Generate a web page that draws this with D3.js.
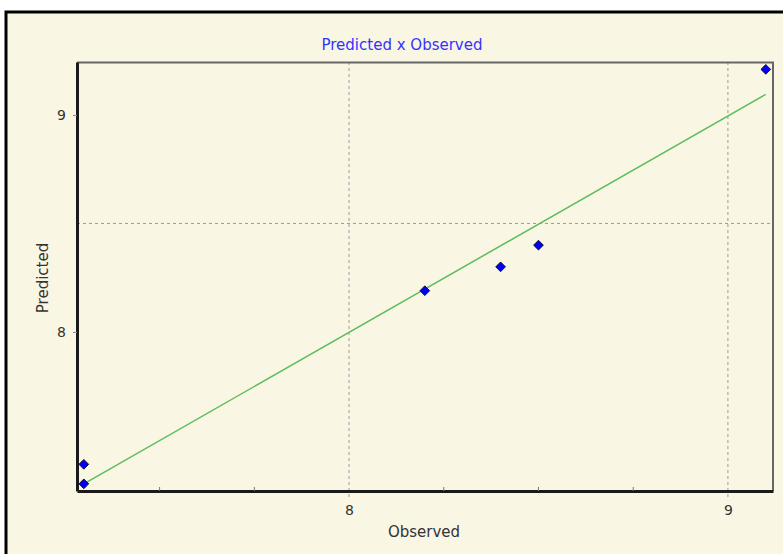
<!DOCTYPE html>
<html>
<head>
<meta charset="utf-8">
<script src="https://cdn.jsdelivr.net/npm/d3@7"></script>
<style>
  body { margin: 0; background: #ffffff; }
  svg { display: block; }
</style>
</head>
<body>
<svg id="chart" width="783" height="554"></svg>
<script>
// observed / predicted pairs
const observed  = [7.3, 7.3, 8.2, 8.4, 8.5, 9.1]
const predicted = [7.39, 7.3, 8.19, 8.3, 8.4, 9.21]
// fitted line end points
const fitX = [7.3, 9.1]
const fitY = [7.3, 9.095]
const xTicks = [8, 9]
const yTicks = [8, 9]
const xMinorTicks = [7.5, 7.75, 8.25, 8.5, 8.75]
const yGrid = [8.5]
const xDomain = [7.282, 9.119]
const yDomain = [7.267, 9.244]

const svg = d3.select('#chart')
const margin = {top: 62, left: 77, right: 10, bottom: 63}
const W = 783, H = 554
const inW = W - margin.left - margin.right
const inH = H - margin.top - margin.bottom
const font = 'DejaVu Sans, Verdana, sans-serif'

// cream panel with black frame on top/left
svg.append('rect')
  .attr('x', 0).attr('y', 0).attr('width', W).attr('height', H)
  .attr('fill', '#ffffff')
svg.append('rect')
  .attr('x', 6).attr('y', 12).attr('width', W + 10).attr('height', H + 10)
  .attr('fill', '#faf6e4')
  .attr('stroke', '#000').attr('stroke-width', 3)

const g = svg.append('g')
  .attr('transform', 'translate(' + margin.left + ',' + margin.top + ')')

const x = d3.scaleLinear().domain(xDomain).range([0, inW])
const y = d3.scaleLinear().domain(yDomain).range([inH, 0])

// grid
g.selectAll('.vgrid')
  .data(xTicks)
  .join('line')
  .attr('x1', d => x(d)).attr('x2', d => x(d))
  .attr('y1', 0).attr('y2', inH + 6)
  .attr('stroke', '#9a9a9a').attr('stroke-dasharray', '3,3')
g.selectAll('.hgrid')
  .data(yGrid)
  .join('line')
  .attr('x1', 0).attr('x2', inW)
  .attr('y1', d => y(d)).attr('y2', d => y(d))
  .attr('stroke', '#9a9a9a').attr('stroke-dasharray', '3,3')

// frame: top and right thin gray
g.append('path')
  .attr('d', `M0,0.5H${inW}V${inH}`)
  .attr('fill', 'none').attr('stroke', '#666').attr('stroke-width', 2)

// axes
const xAxis = d3.axisBottom(x).tickValues(xTicks).tickFormat(d3.format('d'))
  .tickSize(0).tickSizeOuter(0).tickPadding(14)
const yAxis = d3.axisLeft(y).tickValues(yTicks).tickFormat(d3.format('d'))
  .tickSize(4).tickSizeOuter(0).tickPadding(7)

const gx = g.append('g').attr('transform', `translate(0,${inH})`).call(xAxis)
const gy = g.append('g').call(yAxis)
;[gx, gy].forEach(a => {
  a.select('.domain').attr('stroke', '#1a1a1a').attr('stroke-width', 3)
  a.selectAll('text').attr('font-family', font).attr('font-size', 14).attr('fill', '#333')
  a.selectAll('.tick line').attr('stroke', '#888')
})

g.selectAll('.minor')
  .data(xMinorTicks)
  .join('line')
  .attr('x1', d => x(d)).attr('x2', d => x(d))
  .attr('y1', inH - 4).attr('y2', inH)
  .attr('stroke', '#777')

// fitted line
const line = d3.line().x(d => x(d[0])).y(d => y(d[1]))
g.append('path')
  .datum(d3.zip(fitX, fitY))
  .attr('d', line)
  .attr('fill', 'none')
  .attr('stroke', '#5cbd5c')
  .attr('stroke-width', 1.5)

// points
const diamond = d3.symbol().type(d3.symbolDiamond2).size(60)
g.selectAll('.pt')
  .data(d3.zip(observed, predicted))
  .join('path')
  .attr('d', diamond)
  .attr('transform', d => `translate(${x(d[0])},${y(d[1])})`)
  .attr('fill', '#0000ee')
  .attr('stroke', '#101040')
  .attr('stroke-width', 1)

// titles
svg.append('text')
  .attr('x', 402).attr('y', 50)
  .attr('text-anchor', 'middle')
  .attr('font-family', font).attr('font-size', 15)
  .attr('fill', '#3333ff')
  .text('Predicted x Observed')

svg.append('text')
  .attr('x', 424).attr('y', 537)
  .attr('text-anchor', 'middle')
  .attr('font-family', font).attr('font-size', 15)
  .attr('fill', '#333')
  .text('Observed')

svg.append('text')
  .attr('transform', 'translate(48,278) rotate(-90)')
  .attr('text-anchor', 'middle')
  .attr('font-family', font).attr('font-size', 15)
  .attr('fill', '#333')
  .text('Predicted')
</script>
</body>
</html>
